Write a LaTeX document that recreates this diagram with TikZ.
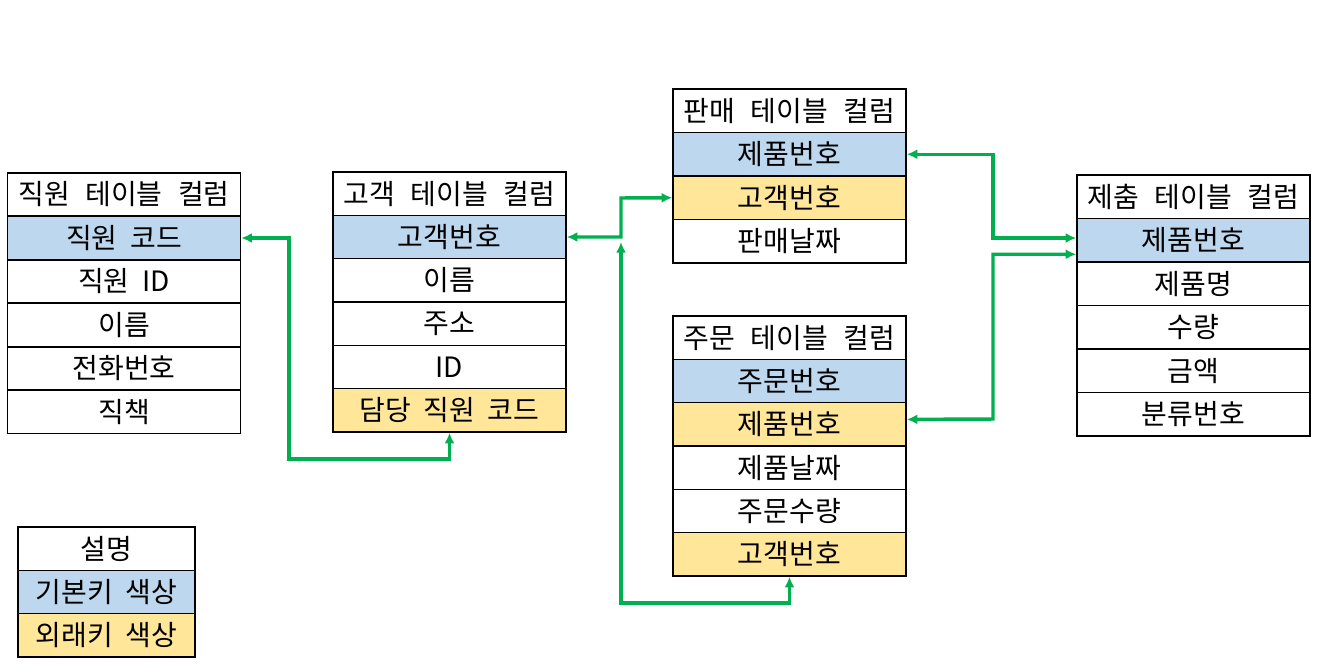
\documentclass[tikz,border=0pt]{standalone}
\usepackage{fontspec}
\newfontfamily\kr{Noto Sans CJK KR}
\usetikzlibrary{arrows.meta,calc}
\definecolor{pkblue}{HTML}{BDD7EE}
\definecolor{fkyellow}{HTML}{FFE699}
\definecolor{conngreen}{HTML}{00B050}
\newcommand\krcell{\kr\fontsize{21}{24}\selectfont\spaceskip 0.45em plus 0pt\relax}
\newcommand\krhdr{\kr\fontsize{21}{24}\selectfont\spaceskip 0.55em plus 0pt\relax}
\tikzset{
  cell/.style={draw=black, line width=1.1pt, minimum width=174.75pt, minimum height=32.5pt, inner sep=0pt, font=\krcell},
  hdr/.style={cell, font=\krhdr},
  pk/.style={cell, fill=pkblue},
  fk/.style={cell, fill=fkyellow},
  legcell/.style={cell, minimum width=132.75pt},
  conn/.style={draw=conngreen, line width=2.6pt, {Latex[length=8pt,width=7.5pt]}-{Latex[length=8pt,width=7.5pt]}}
}
\begin{document}
\begin{tikzpicture}[x=0.75pt,y=-0.75pt]
\useasboundingbox[fill=white] (0,0) rectangle (1341,671);
% Table 1
\node[hdr] (t1h) at (124,194.5) {직원 테이블 컬럼};
\node[pk] (t1r1) at (124,238) {직원 코드};
\node[cell] (t1r2) at (124,281.5) {직원 ID};
\node[cell] (t1r3) at (124,325) {이름};
\node[cell] (t1r4) at (124,368.5) {전화번호};
\node[cell] (t1r5) at (124,412) {직책};
% Table 2
\node[hdr] (t2h) at (449.5,193.67) {고객 테이블 컬럼};
\node[pk] (t2r1) at (449.5,237) {고객번호};
\node[cell] (t2r2) at (449.5,280.33) {이름};
\node[cell] (t2r3) at (449.5,323.67) {주소};
\node[cell] (t2r4) at (449.5,367) {ID};
\node[fk] (t2r5) at (449.5,410.33) {담당 직원 코드};
% Table 3
\node[hdr] (t3h) at (789.5,110.75) {판매 테이블 컬럼};
\node[pk] (t3r1) at (789.5,154.25) {제품번호};
\node[fk] (t3r2) at (789.5,197.75) {고객번호};
\node[cell] (t3r3) at (789.5,241.25) {판매날짜};
% Table 4
\node[hdr] (t4h) at (789.5,337.67) {주문 테이블 컬럼};
\node[pk] (t4r1) at (789.5,381) {주문번호};
\node[fk] (t4r2) at (789.5,424.33) {제품번호};
\node[cell] (t4r3) at (789.5,467.67) {제품날짜};
\node[cell] (t4r4) at (789.5,511) {주문수량};
\node[fk] (t4r5) at (789.5,554.33) {고객번호};
% Table 5
\node[hdr] (t5h) at (1193.5,196.75) {제춤 테이블 컬럼};
\node[pk] (t5r1) at (1193.5,240.25) {제품번호};
\node[cell] (t5r2) at (1193.5,283.75) {제품명};
\node[cell] (t5r3) at (1193.5,327.25) {수량};
\node[cell] (t5r4) at (1193.5,370.75) {금액};
\node[cell] (t5r5) at (1193.5,414.25) {분류번호};
% Legend
\node[legcell] (lg1) at (106.5,548.67) {설명};
\node[legcell, fill=pkblue] (lg2) at (106.5,592) {기본키 색상};
\node[legcell, fill=fkyellow] (lg3) at (106.5,635.33) {외래키 색상};
% Connectors
\coordinate (j1) at (289,459);
\draw[conn] (t1r1.east) -| (j1) -| (t2r5.south);
\coordinate (j2) at (621,198);
\draw[conn] (t2r1.east) -| (j2) -- (t3r2.west);
\coordinate (j3) at (621,603);
\coordinate (j4) at (621,242);
\draw[conn] (t4r5.south) |- (j3) -- (j4);
\coordinate (j5) at (993,157);
\draw[conn] (t3r1.east) -| (j5) |- ([yshift=1.7pt]t5r1.west);
\coordinate (j6) at (993,419);
\draw[conn] ([yshift=3.7pt]t4r2.east) -- (j6) |- ([yshift=-10.5pt]t5r1.west);
\end{tikzpicture}
\end{document}
